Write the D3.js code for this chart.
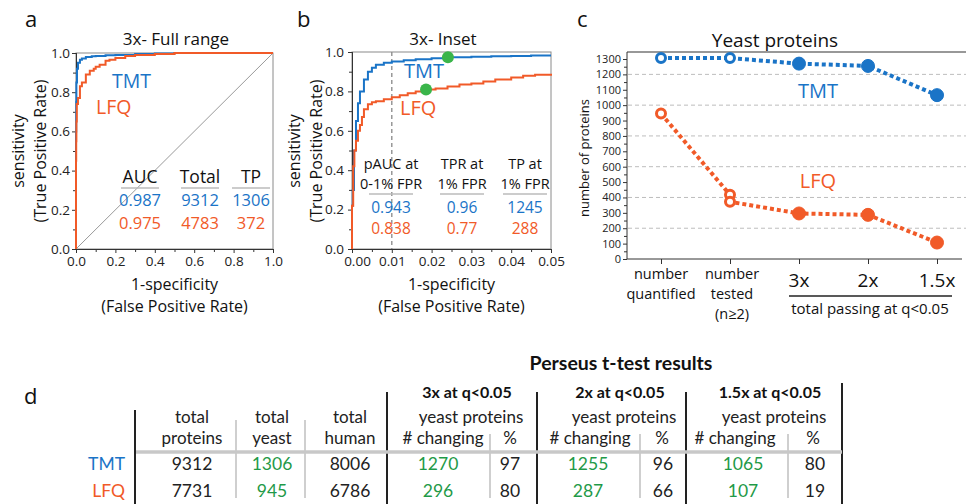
<!DOCTYPE html>
<meta charset="utf-8">
<style>
body { margin:0; background:#fff; }
svg { font-family: "Open Sans", sans-serif; }
.axis path, .axis line { stroke:#333; }
.axis text { fill:#222; font-family:"Open Sans", sans-serif; }
.tbl { font-family: Lato, sans-serif; }
</style>
<svg width="966" height="504"></svg>
<script src="https://d3js.org/d3.v7.min.js"></script>
<script>
var blue = "#1a74c7", orange = "#f15a28", dotGreen = "#3ab54a", txtGreen = "#1f9a48";

// panel a - full range ROC (FPR, TPR)
var tmtFullFpr = [0, 0, 0, 0.001, 0.002, 0.005, 0.01, 0.02, 0.03, 0.05, 0.08, 0.1, 0.15, 0.2, 0.3, 0.4, 0.5, 0.7, 1.0];
var tmtFullTpr = [0, 0.25, 0.6, 0.75, 0.85, 0.92, 0.95, 0.965, 0.972, 0.98, 0.983, 0.985, 0.988, 0.99, 0.995, 0.997, 1.0, 1.0, 1.0];
var lfqFullFpr = [0, 0, 0.001, 0.002, 0.004, 0.01, 0.02, 0.03, 0.05, 0.07, 0.09, 0.1, 0.12, 0.15, 0.17, 0.2, 0.25, 0.3, 0.4, 0.5, 1.0];
var lfqFullTpr = [0, 0.45, 0.55, 0.65, 0.74, 0.77, 0.83, 0.85, 0.89, 0.91, 0.92, 0.93, 0.94, 0.96, 0.965, 0.975, 0.985, 0.99, 0.995, 1.0, 1.0];
var aucVals = ["0.987", "0.975"], totalVals = ["9312", "4783"], tpVals = ["1306", "372"];

// panel b - inset 0..0.05 FPR
var tmtInsetFpr = [0, 0, 0.0002, 0.0005, 0.001, 0.0015, 0.002, 0.003, 0.004, 0.005, 0.006, 0.008, 0.01, 0.013, 0.016, 0.02, 0.024, 0.03, 0.035, 0.04, 0.045, 0.05];
var tmtInsetTpr = [0, 0.22, 0.3, 0.5, 0.65, 0.74, 0.8, 0.86, 0.9, 0.92, 0.935, 0.945, 0.952, 0.958, 0.963, 0.968, 0.973, 0.976, 0.978, 0.98, 0.982, 0.982];
var lfqInsetFpr = [0, 0, 0.0003, 0.0006, 0.001, 0.0015, 0.002, 0.0025, 0.003, 0.004, 0.005, 0.006, 0.008, 0.01, 0.012, 0.014, 0.016, 0.0186, 0.021, 0.024, 0.027, 0.03, 0.033, 0.036, 0.04, 0.043, 0.046, 0.05];
var lfqInsetTpr = [0, 0.22, 0.42, 0.5, 0.55, 0.6, 0.63, 0.67, 0.71, 0.735, 0.745, 0.75, 0.76, 0.77, 0.78, 0.79, 0.8, 0.81, 0.815, 0.825, 0.835, 0.84, 0.85, 0.86, 0.87, 0.88, 0.885, 0.89];
var cutFpr = [0.0241, 0.0186], cutTpr = [0.973, 0.81];
var pAucVals = ["0.943", "0.838"], tprVals = ["0.96", "0.77"], tpAtVals = ["1245", "288"];

// panel c - yeast proteins
var categories = ["number quantified", "number tested", "3x", "2x", "1.5x"];
var tmtCats = ["number quantified", "number tested", "3x", "2x", "1.5x"];
var tmtCounts = [1306, 1306, 1270, 1255, 1065];
var tmtOpen = [true, true, false, false, false];
var lfqCats = ["number quantified", "number tested", "number tested", "3x", "2x", "1.5x"];
var lfqCounts = [945, 417, 372, 296, 287, 107];
var lfqOpen = [true, true, true, false, false, false];

// panel d - table
var methods = ["TMT", "LFQ"];
var totalProteins = [9312, 7731];
var totalYeast = [1306, 945];
var totalHuman = [8006, 6786];
var changing3x = [1270, 296], pct3x = [97, 80];
var changing2x = [1255, 287], pct2x = [96, 66];
var changing15x = [1065, 107], pct15x = [80, 19];

var svg = d3.select("svg");
svg.append("rect").attr("width", 966).attr("height", 504).attr("fill", "#fff");

function txt(x, y, s, o) {
  o = o || {};
  return svg.append("text").attr("x", x).attr("y", y)
    .attr("text-anchor", o.anchor || "middle")
    .attr("font-size", o.size || 15)
    .attr("font-weight", o.weight || null)
    .attr("fill", o.color || "#111")
    .attr("class", o.cls || null)
    .text(s);
}

function zip(a, b) { return a.map(function(v, i) { return [v, b[i]]; }); }

function rocAxes(x, y, xMajor, xMinor, fmt, yPad) {
  var x0 = x.range()[0], x1 = x.range()[1], y0 = y.range()[0], y1 = y.range()[1];
  svg.append("rect").attr("x", x0).attr("y", y1).attr("width", x1 - x0).attr("height", y0 - y1)
    .attr("fill", "none").attr("stroke", "#8a8a8a").attr("stroke-width", 1);
  var yMajor = [0, 0.2, 0.4, 0.6, 0.8, 1.0], yMinor = [0.1, 0.3, 0.5, 0.7, 0.9];
  svg.append("g").attr("class", "axis").attr("transform", "translate(" + x0 + ",0)")
    .call(d3.axisLeft(y).tickValues(yMinor).tickSize(3).tickFormat(""));
  svg.append("g").attr("class", "axis").attr("transform", "translate(" + x0 + ",0)")
    .call(d3.axisLeft(y).tickValues(yMajor).tickSize(4).tickPadding(yPad).tickFormat(d3.format(".1f")))
    .selectAll("text").attr("font-size", 13.5);
  svg.append("g").attr("class", "axis").attr("transform", "translate(0," + y0 + ")")
    .call(d3.axisBottom(x).tickValues(xMinor).tickSize(3).tickFormat(""));
  var xg = svg.append("g").attr("class", "axis").attr("transform", "translate(0," + y0 + ")")
    .call(d3.axisBottom(x).tickValues(xMajor).tickSize(4).tickPadding(3).tickFormat(d3.format(fmt)));
  xg.selectAll("text").attr("font-size", 13.5);
  var cx = (x0 + x1) / 2;
  txt(cx, 290, "1-specificity", {size: 16});
  txt(cx, 312, "(False Positive Rate)", {size: 16});
  return xg;
}

function ylab(x, y, s, size) {
  svg.append("text").attr("transform", "translate(" + x + "," + y + ") rotate(-90)")
    .attr("text-anchor", "middle").attr("font-size", size).attr("fill", "#111").text(s);
}

var step = d3.line().curve(d3.curveStepAfter)
  .x(function(d) { return d.x; }).y(function(d) { return d.y; });

function rocPath(x, y, fpr, tpr, col) {
  svg.append("path")
    .datum(zip(fpr, tpr).map(function(p) { return {x: x(p[0]), y: y(p[1])}; }))
    .attr("d", step).attr("fill", "none").attr("stroke", col).attr("stroke-width", 2);
}

// ---------- panel a ----------
var xA = d3.scaleLinear().domain([0, 1]).range([76, 273]);
var yA = d3.scaleLinear().domain([0, 1]).range([249, 53]);
txt(25, 27, "a", {size: 22, anchor: "start"});
txt(176, 45, "3x- Full range", {size: 17});
svg.append("line").attr("x1", xA(0)).attr("y1", yA(0)).attr("x2", xA(1)).attr("y2", yA(1))
  .attr("stroke", "#999").attr("stroke-width", 1);
rocAxes(xA, yA, [0, 0.2, 0.4, 0.6, 0.8, 1.0], [0.1, 0.3, 0.5, 0.7, 0.9], ".1f", 2);
ylab(24, 151, "sensitivity", 16);
ylab(46, 151, "(True Positive Rate)", 16);
rocPath(xA, yA, tmtFullFpr, tmtFullTpr, blue);
rocPath(xA, yA, lfqFullFpr, lfqFullTpr, orange);
txt(112, 88, "TMT", {size: 19.5, color: blue, anchor: "start"});
txt(96, 114, "LFQ", {size: 19.5, color: orange, anchor: "start"});

[["AUC", 140, aucVals], ["Total", 200, totalVals], ["TP", 251, tpVals]].forEach(function(c) {
  txt(c[1], 183, c[0], {size: 17.5});
  svg.append("line").attr("x1", c[1] - 19).attr("x2", c[1] + 19).attr("y1", 188).attr("y2", 188)
    .attr("stroke", "#bbb").attr("stroke-width", 1.5);
  txt(c[1], 206, c[2][0], {size: 16.5, color: blue});
  txt(c[1], 228.5, c[2][1], {size: 16.5, color: orange});
});

// ---------- panel b ----------
var xB = d3.scaleLinear().domain([0, 0.05]).range([352, 551]);
var yB = d3.scaleLinear().domain([0, 1]).range([249, 52]);
txt(297, 27, "b", {size: 22, anchor: "start"});
txt(443, 45, "3x- Inset", {size: 17});
svg.append("line").attr("x1", xB(0.01)).attr("x2", xB(0.01)).attr("y1", yB(1)).attr("y2", yB(0))
  .attr("stroke", "#888").attr("stroke-width", 1.3).attr("stroke-dasharray", "4,3");
var xbAxis = rocAxes(xB, yB, [0, 0.01, 0.02, 0.03, 0.04, 0.05], [0.005, 0.015, 0.025, 0.035, 0.045], ".2f", 4);
xbAxis.selectAll("text").filter(function(d) { return d === 0; }).attr("dx", 5);
ylab(300, 151, "sensitivity", 16);
ylab(322, 151, "(True Positive Rate)", 16);
rocPath(xB, yB, tmtInsetFpr, tmtInsetTpr, blue);
rocPath(xB, yB, lfqInsetFpr, lfqInsetTpr, orange);
svg.append("g").selectAll("circle").data(zip(cutFpr, cutTpr)).enter().append("circle")
  .attr("cx", function(d) { return xB(d[0]); }).attr("cy", function(d) { return yB(d[1]); })
  .attr("r", 6).attr("fill", dotGreen);
txt(404, 78, "TMT", {size: 20, color: blue, anchor: "start"});
txt(400, 115, "LFQ", {size: 20, color: orange, anchor: "start"});

[["pAUC at", "0-1% FPR", 391, pAucVals], ["TPR at", "1% FPR", 462, tprVals], ["TP at", "1% FPR", 525, tpAtVals]].forEach(function(c) {
  txt(c[2], 169, c[0], {size: 14.5});
  txt(c[2], 189, c[1], {size: 14.5});
  svg.append("line").attr("x1", c[2] - 22).attr("x2", c[2] + 22).attr("y1", 194).attr("y2", 194)
    .attr("stroke", "#bbb").attr("stroke-width", 1.5);
  txt(c[2], 213, c[3][0], {size: 15.5, color: blue});
  txt(c[2], 234, c[3][1], {size: 15.5, color: orange});
});

// ---------- panel c ----------
var xC = d3.scalePoint().domain(categories).range([661, 937]);
var yC = d3.scaleLinear().domain([0, 1300]).range([259, 59]);
txt(577, 27, "c", {size: 22, anchor: "start"});
txt(775, 47, "Yeast  proteins", {size: 19});
svg.append("g").selectAll("line").data([200, 400, 600, 800, 1000, 1200]).enter().append("line")
  .attr("x1", 628).attr("x2", 966).attr("y1", yC).attr("y2", yC)
  .attr("stroke", "#bdbdbd").attr("stroke-width", 1).attr("stroke-dasharray", "4,3");
svg.append("line").attr("x1", 627).attr("x2", 966).attr("y1", 52).attr("y2", 52)
  .attr("stroke", "#333").attr("stroke-width", 1.2);
svg.append("g").attr("class", "axis").attr("transform", "translate(627,0)")
  .call(d3.axisLeft(yC).tickValues(d3.range(50, 1300, 100)).tickSize(3).tickFormat(""))
  .select(".domain").remove();
var ya = svg.append("g").attr("class", "axis").attr("transform", "translate(627,0)")
  .call(d3.axisLeft(yC).tickValues(d3.range(0, 1301, 100)).tickSize(4).tickPadding(2).tickFormat(d3.format("d")));
ya.select(".domain").attr("d", "M0,52V259");
ya.selectAll("text").attr("font-size", 11);
var xa = svg.append("g").attr("class", "axis").attr("transform", "translate(0,259)")
  .call(d3.axisBottom(xC).tickSize(5).tickFormat(""));
xa.select(".domain").attr("d", "M627,0H962");
ylab(589, 158, "number of proteins", 13);

var q = xC("number quantified"), t = xC("number tested") + 2;
txt(q, 279, "number", {size: 14.5});
txt(q, 299, "quantified", {size: 14.5});
txt(t, 279, "number", {size: 14.5});
txt(t, 299, "tested", {size: 14.5});
txt(t, 319, "(n\u22652)", {size: 14.5});
["3x", "2x", "1.5x"].forEach(function(c) { txt(xC(c), 287, c, {size: 19}); });
svg.append("line").attr("x1", 789).attr("x2", 952).attr("y1", 296).attr("y2", 296)
  .attr("stroke", "#222").attr("stroke-width", 1.3);
txt(870, 314, "total passing at q<0.05", {size: 15});

function series(cats, vals, open, col) {
  var pts = cats.map(function(c, i) { return {x: xC(c), y: yC(vals[i]), open: open[i]}; });
  svg.append("path").datum(pts).attr("d", d3.line().x(function(d) { return d.x; }).y(function(d) { return d.y; }))
    .attr("fill", "none").attr("stroke", col).attr("stroke-width", 4).attr("stroke-dasharray", "4,3");
  svg.append("g").selectAll("circle").data(pts).enter().append("circle")
    .attr("cx", function(d) { return d.x; }).attr("cy", function(d) { return d.y; })
    .attr("r", function(d) { return d.open ? 4.5 : 6.5; })
    .attr("fill", function(d) { return d.open ? "#fff" : col; })
    .attr("stroke", col).attr("stroke-width", function(d) { return d.open ? 3 : 1; });
}
series(tmtCats, tmtCounts, tmtOpen, blue);
series(lfqCats, lfqCounts, lfqOpen, orange);
txt(818, 98, "TMT", {size: 20, color: blue});
txt(818, 188, "LFQ", {size: 20, color: orange});

// ---------- panel d ----------
txt(24, 404, "d", {size: 22, anchor: "start"});
txt(621, 370, "Perseus t-test results", {size: 19.5, weight: "bold", cls: "tbl"});
[[135, 410], [387, 392], [537, 392], [686, 392], [842, 383]].forEach(function(v) {
  svg.append("line").attr("x1", v[0]).attr("x2", v[0]).attr("y1", v[1]).attr("y2", 504)
    .attr("stroke", "#222").attr("stroke-width", 2);
});
[[236, 420], [305, 420], [490, 434], [640, 434], [788, 434]].forEach(function(v) {
  svg.append("line").attr("x1", v[0]).attr("x2", v[0]).attr("y1", v[1]).attr("y2", 498)
    .attr("stroke", "#cfcfcf").attr("stroke-width", 2);
});
svg.append("line").attr("x1", 136).attr("x2", 842).attr("y1", 452).attr("y2", 452)
  .attr("stroke", "#c8c8c8").attr("stroke-width", 3.5);

var hs = {size: 17, cls: "tbl", color: "#222"};
txt(192, 423, "total", hs); txt(192, 444, "proteins", hs);
txt(272, 423, "total", hs); txt(272, 444, "yeast", hs);
txt(350, 423, "total", hs); txt(350, 444, "human", hs);
[["3x at q<0.05", 467, 443, 510], ["2x at q<0.05", 620, 590, 662], ["1.5x at q<0.05", 770, 735, 813]].forEach(function(g) {
  txt(g[1], 398, g[0], {size: 16, weight: "bold", cls: "tbl"});
  txt(g[1] + 4, 423, "yeast proteins", hs);
  txt(g[2], 444, "# changing", hs);
  txt(g[3], 444, "%", hs);
});

var rowY = [470, 497], rowCol = [blue, orange];
methods.forEach(function(m, i) {
  var y = rowY[i];
  var cs = {size: 17.5, cls: "tbl", color: "#222"}, gs = {size: 17.5, cls: "tbl", color: txtGreen};
  txt(125, y, m, {size: 17.5, cls: "tbl", color: rowCol[i], anchor: "end"});
  txt(192, y, totalProteins[i], cs);
  txt(272, y, totalYeast[i], gs);
  txt(350, y, totalHuman[i], cs);
  txt(438, y, changing3x[i], gs); txt(510, y, pct3x[i], cs);
  txt(588, y, changing2x[i], gs); txt(663, y, pct2x[i], cs);
  txt(743, y, changing15x[i], gs); txt(815, y, pct15x[i], cs);
});
</script>
